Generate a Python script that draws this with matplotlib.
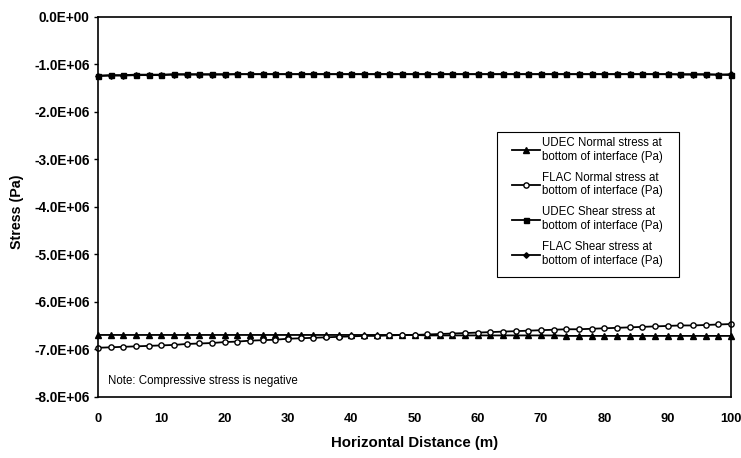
import matplotlib.pyplot as plt
from matplotlib.patches import Rectangle
from matplotlib.ticker import FuncFormatter, MultipleLocator
import numpy as np

plt.rcParams['font.family'] = ['Liberation Sans', 'DejaVu Sans']

# Horizontal distance along the interface (m)
distance = list(range(0, 101, 2))

# Stresses at bottom of interface (MPa, converted to Pa below)
udec_normal = [-6.70, -6.70, -6.70, -6.70, -6.70, -6.70, -6.70, -6.70, -6.70, -6.70,
               -6.70, -6.70, -6.70, -6.70, -6.70, -6.70, -6.70, -6.70, -6.70, -6.70,
               -6.70, -6.70, -6.70, -6.70, -6.70, -6.70, -6.71, -6.71, -6.71, -6.71,
               -6.71, -6.71, -6.71, -6.71, -6.71, -6.71, -6.71, -6.72, -6.72, -6.72,
               -6.72, -6.72, -6.72, -6.72, -6.72, -6.72, -6.72, -6.72, -6.72, -6.72,
               -6.72]
flac_normal = [-6.97, -6.96, -6.95, -6.94, -6.93, -6.92, -6.91, -6.89, -6.88, -6.87,
               -6.85, -6.84, -6.82, -6.81, -6.80, -6.78, -6.77, -6.76, -6.75, -6.74,
               -6.73, -6.72, -6.72, -6.71, -6.70, -6.70, -6.69, -6.68, -6.67, -6.66,
               -6.65, -6.64, -6.63, -6.62, -6.61, -6.60, -6.59, -6.58, -6.58, -6.57,
               -6.56, -6.55, -6.54, -6.53, -6.52, -6.51, -6.50, -6.50, -6.49, -6.48,
               -6.47]
udec_shear = [-1.24, -1.23, -1.23, -1.22, -1.22, -1.22, -1.21, -1.21, -1.21, -1.21,
              -1.21, -1.21, -1.21, -1.21, -1.21, -1.21, -1.21, -1.21, -1.21, -1.21,
              -1.21, -1.21, -1.21, -1.21, -1.21, -1.21, -1.21, -1.21, -1.21, -1.21,
              -1.21, -1.21, -1.21, -1.21, -1.21, -1.21, -1.21, -1.21, -1.21, -1.21,
              -1.21, -1.21, -1.21, -1.21, -1.21, -1.21, -1.21, -1.21, -1.21, -1.22,
              -1.23]
flac_shear = [-1.25, -1.24, -1.24, -1.23, -1.23, -1.23, -1.22, -1.22, -1.22, -1.22,
              -1.22, -1.21, -1.21, -1.21, -1.21, -1.21, -1.21, -1.21, -1.21, -1.21,
              -1.21, -1.21, -1.21, -1.21, -1.21, -1.21, -1.21, -1.21, -1.21, -1.21,
              -1.21, -1.21, -1.21, -1.21, -1.21, -1.21, -1.21, -1.21, -1.21, -1.21,
              -1.21, -1.21, -1.21, -1.21, -1.21, -1.21, -1.22, -1.22, -1.22, -1.22,
              -1.21]

series = [
    ('UDEC Normal stress at\nbottom of interface (Pa)', udec_normal, '^', 'k', 4.5),
    ('FLAC Normal stress at\nbottom of interface (Pa)', flac_normal, 'o', 'white', 3.8),
    ('UDEC Shear stress at\nbottom of interface (Pa)', udec_shear, 's', 'k', 3.6),
    ('FLAC Shear stress at\nbottom of interface (Pa)', flac_shear, 'D', 'k', 2.8),
]

fig = plt.figure(figsize=(7.41, 4.58), dpi=100)
ax = fig.add_axes([98 / 741, 61.3 / 458, 633 / 741, 380 / 458])

for label, vals, mk, face, ms in series:
    ax.plot(distance, np.array(vals) * 1e6, color='k', lw=1.3, marker=mk,
            markersize=ms, markerfacecolor=face, markeredgecolor='k',
            markeredgewidth=1.0, label=label, clip_on=False)

ax.set_xlim(0, 100)
ax.set_ylim(-8e6, 0)
ax.xaxis.set_major_locator(MultipleLocator(10))
ax.yaxis.set_major_locator(MultipleLocator(1e6))
ax.yaxis.set_major_formatter(FuncFormatter(lambda v, p: f"{v:.1E}"))

for s in ax.spines.values():
    s.set_color('k')
    s.set_linewidth(1.2)

ax.tick_params(axis='y', direction='out', length=3, width=1, labelsize=9.8, pad=3)
ax.tick_params(axis='x', length=0, labelsize=9.3, pad=12)
for t in ax.get_xticklabels() + ax.get_yticklabels():
    t.set_fontweight('bold')

ax.set_xlabel('Horizontal Distance (m)', fontsize=10.8, fontweight='bold')
ax.set_ylabel('Stress (Pa)', fontsize=10.3, fontweight='bold')
ax.xaxis.set_label_coords(0.5, -0.103)
ax.yaxis.set_label_coords(-0.117, 0.486)

ax.text(0.016, 0.041, 'Note: Compressive stress is negative', transform=ax.transAxes,
        fontsize=8.3, va='center', ha='left')

# legend box drawn separately so the padding around the entries can be set freely
ax.add_patch(Rectangle((0.630, 0.315), 0.288, 0.382, transform=ax.transAxes,
                       facecolor='white', edgecolor='k', lw=0.8, zorder=4))
leg = ax.legend(loc='upper left', bbox_to_anchor=(0.654, 0.684), fontsize=8.3,
                frameon=False, handlelength=2.4, handletextpad=0.2,
                labelspacing=0.78, borderpad=0, borderaxespad=0)
leg.set_zorder(5)

plt.savefig('out.png', dpi=100)
plt.close()
